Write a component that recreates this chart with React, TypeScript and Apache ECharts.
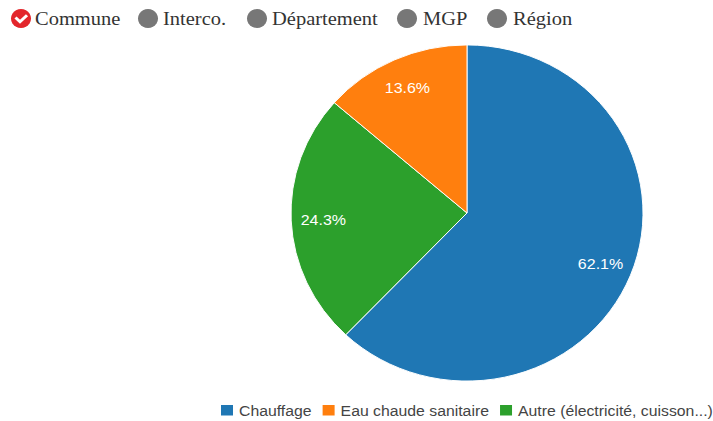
import React, { useEffect, useRef } from "react";
import * as echarts from "echarts";

const categories = ["Chauffage", "Eau chaude sanitaire", "Autre (électricité, cuisson...)"];
const shares = [62.1, 13.6, 24.3];
const colors = ["#1f77b4", "#ff7f0e", "#2ca02c"];
const sliceOrder = [0, 2, 1];
const headerLabels = ["Commune", "Interco.", "Département", "MGP", "Région"];
const headerCircleX = [21, 148, 257, 407, 497];
const headerTextX = [35, 163, 272, 423, 513];

const WIDTH = 713;
const HEIGHT = 421;
const SQUASH = 0.955;
const RADIUS = 176;
const HEADER_Y = 18.5 / SQUASH;

export default function App() {
  const ref = useRef<HTMLDivElement>(null);
  useEffect(() => {
    const chart = echarts.init(ref.current!, undefined, { renderer: "svg" });
    const headerItems: any[] = [];
    headerLabels.forEach((label, i) => {
      headerItems.push({
        type: "circle",
        shape: { cx: headerCircleX[i], cy: HEADER_Y, r: 10 },
        style: { fill: i === 0 ? "#e3262c" : "#777777" },
      });
      headerItems.push({
        type: "text",
        x: headerTextX[i],
        y: HEADER_Y,
        style: {
          text: label,
          fill: "#333333",
          font: '20.5px "Liberation Serif"',
          textAlign: "left",
          textVerticalAlign: "middle",
        },
      });
    });
    headerItems.push({
      type: "polyline",
      shape: { points: [[15.5, HEADER_Y - 1], [20, HEADER_Y + 3.5], [27, HEADER_Y - 3.5]] },
      style: { stroke: "#ffffff", lineWidth: 3, fill: "none" },
    });
    chart.setOption({
      animation: false,
      backgroundColor: "#ffffff",
      graphic: { elements: headerItems },
      legend: {
        data: categories,
        left: 219,
        top: 402.5 / SQUASH,
        width: 700,
        icon: "rect",
        itemWidth: 14,
        itemHeight: 13,
        itemGap: 9,
        selectedMode: false,
        padding: 0,
        textStyle: { fontFamily: "Liberation Sans", fontSize: 15.8, color: "#444444" },
      },
      series: [
        {
          type: "pie",
          center: [467, 213 / SQUASH],
          radius: [0, RADIUS],
          startAngle: 90,
          clockwise: true,
          silent: true,
          data: sliceOrder.map((i) => ({ name: categories[i], value: shares[i], itemStyle: { color: colors[i] } })),
          itemStyle: { borderColor: "#ffffff", borderWidth: 1 },
          label: { show: false },
          labelLine: { show: false },
        },
        {
          type: "pie",
          center: [467, 213 / SQUASH],
          radius: [RADIUS * 0.6, RADIUS],
          startAngle: 90,
          clockwise: true,
          silent: true,
          data: sliceOrder.map((i) => ({ name: categories[i], value: shares[i], itemStyle: { color: "transparent" } })),
          label: {
            show: true,
            position: "inside",
            formatter: "{c}%",
            color: "#ffffff",
            fontFamily: "Liberation Sans",
            fontSize: 16,
          },
          labelLine: { show: false },
        },
      ],
    });
    return () => chart.dispose();
  }, []);
  return (
    <div style={{ position: "absolute", left: 0, top: 0, width: WIDTH, height: HEIGHT, overflow: "hidden", background: "#fff" }}>
      <div
        ref={ref}
        style={{ width: WIDTH, height: HEIGHT / SQUASH, transform: `scaleY(${SQUASH})`, transformOrigin: "0 0" }}
      />
    </div>
  );
}
